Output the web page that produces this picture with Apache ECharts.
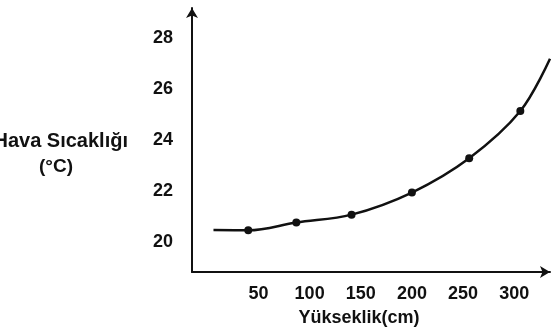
<!DOCTYPE html>
<html>
<head>
<meta charset="utf-8">
<script src="https://cdn.jsdelivr.net/npm/echarts@6/dist/echarts.min.js"></script>
<style>
html,body{margin:0;padding:0;background:#fff;}
#c{width:553px;height:333px;}
</style>
</head>
<body>
<div id="c"></div>
<script>
// Data
const heights = [6, 40, 87, 141, 200, 256, 306, 335];          // Yükseklik (cm)
const temps   = [20.45, 20.44, 20.75, 21.06, 21.93, 23.28, 25.14, 27.2]; // °C
const measured = [false, true, true, true, true, true, true, false];
const xTickLabels = [50, 100, 150, 200, 250, 300];
const yTickLabels = [20, 22, 24, 26, 28];
const yTitle = 'Hava Sıcaklığı';
const yUnit = '(°C)';
const xTitle = 'Yükseklik(cm)';

const chart = echarts.init(document.getElementById('c'), null, {renderer: 'canvas'});
const font = '"Liberation Sans", Arial, sans-serif';

const seriesData = heights.map((h, i) => ({
  value: [h, temps[i]],
  symbol: measured[i] ? 'circle' : 'none'
}));

chart.setOption({
  animation: false,
  backgroundColor: '#ffffff',
  grid: {left: 192, right: 0, top: 8, bottom: 61, containLabel: false},
  xAxis: {
    type: 'value', min: -15, max: 335, interval: 5,
    axisLine: {show: true, onZero: false, lineStyle: {color: '#111', width: 2}, symbol: ['none', 'arrow'], symbolSize: [9, 10]},
    axisTick: {show: false},
    splitLine: {show: false},
    axisLabel: {
      margin: 13, color: '#111', fontSize: 18, fontWeight: 'bold', fontFamily: font,
      formatter: v => {
        const r = Math.round(v);
        return (Math.abs(v - r) < 1e-6 && xTickLabels.indexOf(r) >= 0) ? String(r) : '';
      }
    }
  },
  yAxis: {
    type: 'value', min: 18.8, max: 29.2, interval: 0.4,
    axisLine: {show: true, onZero: false, lineStyle: {color: '#111', width: 2}, symbol: ['none', 'arrow'], symbolSize: [9, 10]},
    axisTick: {show: false},
    splitLine: {show: false},
    axisLabel: {
      margin: 19, color: '#111', fontSize: 18, fontWeight: 'bold', fontFamily: font,
      formatter: v => {
        const r = Math.round(v);
        return (Math.abs(v - r) < 1e-6 && yTickLabels.indexOf(r) >= 0) ? String(r) : '';
      }
    }
  },
  series: [{
    type: 'line',
    data: seriesData,
    smooth: 0.35,
    symbolSize: 8,
    showSymbol: true,
    lineStyle: {color: '#111', width: 2.5},
    itemStyle: {color: '#111'}
  }],
  graphic: [
    {type: 'text', x: 128, y: 141, style: {text: yTitle, fill: '#111', font: 'bold 20px ' + font, textAlign: 'right', textVerticalAlign: 'middle'}},
    {type: 'text', x: 56, y: 167, style: {text: yUnit, fill: '#111', font: 'bold 19px ' + font, textAlign: 'center', textVerticalAlign: 'middle'}},
    {type: 'text', x: 359, y: 318, style: {text: xTitle, fill: '#111', font: 'bold 18px ' + font, textAlign: 'center', textVerticalAlign: 'middle'}}
  ]
});
</script>
</body>
</html>
